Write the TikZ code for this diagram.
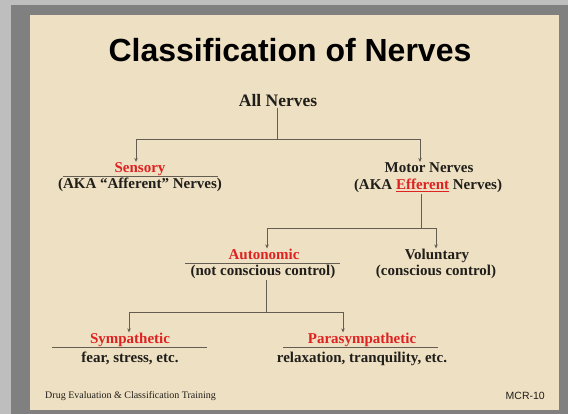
\documentclass[tikz,border=0pt]{standalone}
\usepackage{fontspec}
\setmainfont{Liberation Serif}
\newfontfamily\titlefont{Liberation Sans}
\usetikzlibrary{arrows.meta}

\definecolor{parchment}{RGB}{238,224,194}
\definecolor{framegray}{RGB}{128,128,128}
\definecolor{outergray}{RGB}{190,190,190}
\definecolor{nervered}{RGB}{222,34,34}
\definecolor{linkgray}{RGB}{100,94,82}
\definecolor{inkdark}{RGB}{32,30,26}

\tikzset{
  txt/.style={font=\bfseries\fontsize{15}{17}\selectfont, text=inkdark, inner sep=1pt, anchor=base},
  redhead/.style={txt, text=nervered},
  connector/.style={draw=linkgray, line width=0.9pt},
  branch/.style={connector, -{Stealth[length=4pt,width=3.5pt]}},
  divider/.style={draw=linkgray, line width=0.8pt}
}

\begin{document}
\begin{tikzpicture}[x=1pt,y=-1pt]
        \fill[outergray] (0,0) rectangle (568,414);
        \fill[framegray] (11,5) rectangle (568,414);
        \fill[parchment] (30,15) rectangle (559,410);
        \useasboundingbox (0,0) rectangle (568,414);

        \node[anchor=base, text=black, font=\titlefont\bfseries\fontsize{32}{36}\selectfont] (title) at (290,62) {Classification of Nerves};

        \node[txt, font=\bfseries\fontsize{17.5}{19}\selectfont] (all) at (278,107) {All Nerves};
        \node[redhead] (sens) at (140,173) {Sensory};
        \node[txt] (sensnote) at (140,189) {(AKA “Afferent” Nerves)};
        \node[txt] (motor) at (429,173) {Motor Nerves};
        \node[txt] (motornote) at (428,190) {(AKA \textcolor{nervered}{\underline{Efferent}} Nerves)};
        \node[redhead] (auto) at (264,260) {Autonomic};
        \node[txt] (autonote) at (263,276) {(not conscious control)};
        \node[txt] (vol) at (437,260) {Voluntary};
        \node[txt] (volnote) at (436,276) {(conscious control)};
        \node[redhead] (symp) at (130,344) {Sympathetic};
        \node[txt] (sympnote) at (130,362) {fear, stress, etc.};
        \node[redhead] (para) at (362,344) {Parasympathetic};
        \node[txt] (paranote) at (362,362) {relaxation, tranquility, etc.};

        \foreach \n/\dx in {sens/-77, auto/-79, symp/-78, para/-79}
            \draw[divider] ([xshift=\dx pt, yshift=-3.5pt]\n.base) -- ++(155,0);

        \draw[connector] ([xshift=-1pt]all.south) -- ++(0,31) coordinate (split1);
        \draw[branch] (split1) -| ([xshift=-4pt]sens.north);
        \draw[branch] (split1) -| ([xshift=-9pt]motor.north);

        \draw[connector] ([xshift=-7pt]motornote.south) -- ++(0,34) coordinate (split2);
        \draw[branch] (split2) -| ([xshift=3pt]auto.north);
        \draw[branch] (split2) -| ([xshift=-1pt]vol.north);

        \draw[connector] ([xshift=3pt]autonote.south) -- ++(0,32) coordinate (split3);
        \draw[branch] (split3) -| ([xshift=-1pt]symp.north);
        \draw[branch] (split3) -| ([xshift=-19pt]para.north);

        \node[anchor=base west, inner sep=0, text=inkdark, font=\fontsize{10}{11}\selectfont] (footer) at (45,398) {Drug Evaluation \& Classification Training};
        \node[anchor=base east, inner sep=0, text=inkdark, font=\titlefont\fontsize{10.5}{12}\selectfont] (code) at (545,399) {MCR-10};
    \end{tikzpicture}
\end{document}
